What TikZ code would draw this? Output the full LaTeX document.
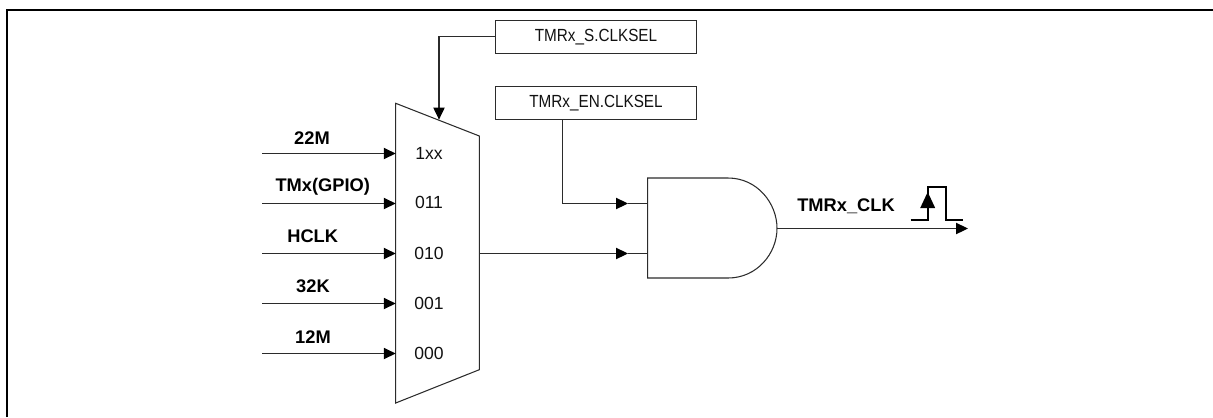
\documentclass[tikz,border=0pt]{standalone}
\usepackage{fontspec}
\setmainfont{Liberation Sans}
\newfontfamily\regfont[FakeStretch=0.87]{Liberation Sans}
\usetikzlibrary{arrows.meta}
\definecolor{TimerLine}{HTML}{2B2B2B}
\definecolor{TimerText}{HTML}{111111}
\tikzset{
  wire/.style={TimerLine,line width=0.6pt},
  sigarrow/.style={wire,-{Triangle[length=6.8pt,width=6.4pt,color=black]}},
  regbox/.style={draw=TimerLine,line width=0.6pt,minimum width=200.6*0.02cm,minimum height=33.2*0.02cm,inner sep=0pt,text=TimerText,font=\regfont\fontsize{10}{12}\selectfont},
  selbit/.style={text=TimerText,inner sep=0pt,font=\fontsize{10}{12}\selectfont},
  clkname/.style={text=black,inner sep=0pt,font=\fontsize{10.4}{12}\selectfont\bfseries}
}

\begin{document}
\begin{tikzpicture}[x=0.02cm,y=-0.02cm]
  \useasboundingbox (0,0) rectangle (1213,417);
  \draw[black,line width=1.15pt] (7,417) -- (7,10) -- (1213,10);

  % select registers
  \node[regbox] (selreg) at (596,36.7) {TMRx\_S.CLKSEL};
  \node[regbox] (enreg) at (596,103.2) {TMRx\_EN.CLKSEL};

  % clock mux
  \draw[wire] (395.7,103.3) -- (479.3,136) -- (479.3,369.7) -- (395.7,403) -- cycle;
  \coordinate (muxtop) at (439,119.6);
  \coordinate (muxout) at (479.3,253.5);
  \node[selbit] (bit4) at (429,153.7) {1xx};
  \node[selbit] (bit3) at (429,202.7) {011};
  \node[selbit] (bit2) at (429,253) {010};
  \node[selbit] (bit1) at (429,303.3) {001};
  \node[selbit] (bit0) at (429,353.3) {000};

  % clock inputs
  \coordinate (src4) at (262,153.5);
  \coordinate (src3) at (262,203.5);
  \coordinate (src2) at (262,253.5);
  \coordinate (src1) at (262,303.5);
  \coordinate (src0) at (262,353.5);
  \coordinate (pin4) at (395.7,153.5);
  \coordinate (pin3) at (395.7,203.5);
  \coordinate (pin2) at (395.7,253.5);
  \coordinate (pin1) at (395.7,303.5);
  \coordinate (pin0) at (395.7,353.5);
  \draw[sigarrow] (src4) -- (pin4);
  \draw[sigarrow] (src3) -- (pin3);
  \draw[sigarrow] (src2) -- (pin2);
  \draw[sigarrow] (src1) -- (pin1);
  \draw[sigarrow] (src0) -- (pin0);
  \node[clkname] (name4) at (312,138) {22M};
  \node[clkname] (name3) at (322.7,187) {TMx(GPIO)};
  \node[clkname] (name2) at (312.7,236.5) {HCLK};
  \node[clkname] (name1) at (313,286) {32K};
  \node[clkname] (name0) at (313,336.7) {12M};

  % and gate
  \draw[wire] (647.7,178) -- (728,178) .. controls (757,178) and (777,203) .. (777,228.3)
    .. controls (777,253.5) and (757,278) .. (728,278) -- (647.7,278) -- cycle;
  \coordinate (gateen) at (647.7,203.5);
  \coordinate (gatein) at (647.7,253.5);
  \coordinate (gateout) at (777,228.5);
  \coordinate (tipen) at (628,203.5);
  \coordinate (tipin) at (628,253.5);
  \coordinate (clkout) at (968,228.5);

  \draw[sigarrow] (selreg.west) -| (muxtop);
  \draw[sigarrow] (enreg.south -| 562.7,0) |- (tipen);
  \draw[wire] (tipen) -- (gateen);
  \draw[sigarrow] (muxout) -- (tipin);
  \draw[wire] (tipin) -- (gatein);
  \draw[sigarrow] (gateout) -- (clkout);
  \node[clkname] (clkname) at (846,206) {TMRx\_CLK};

  % rising edge
  \draw[black,line width=0.95pt] (910.7,220) -- (927.7,220) -- (927.7,186.7) -- (945.7,186.7) -- (945.7,220) -- (962.7,220);
  \fill[black] (927.7,192) -- (935.2,208) -- (920.2,208) -- cycle;
\end{tikzpicture}
\end{document}
